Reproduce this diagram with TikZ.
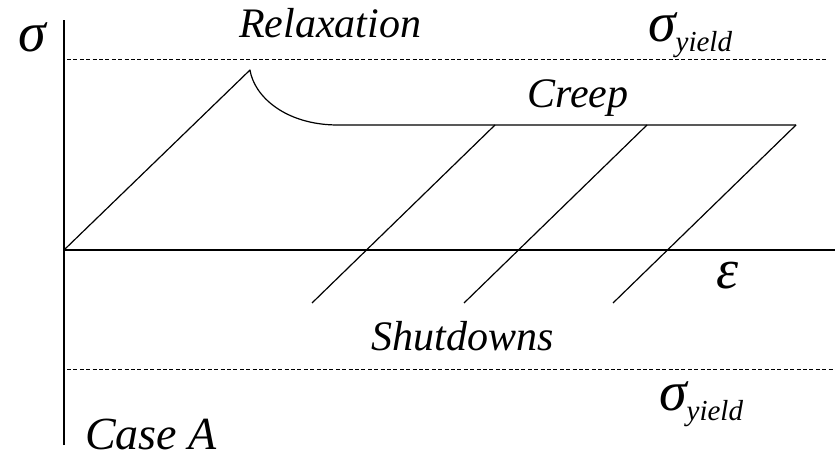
\documentclass[tikz,border=0pt]{standalone}
\usepackage{fontspec}
\setmainfont{Liberation Serif}
\usetikzlibrary{positioning,calc}
\newcommand{\bigsym}[1]{{\fontsize{28}{30}\selectfont #1}}
\newcommand{\syield}{\bigsym{σ}\raisebox{-5pt}{\fontsize{14.5}{16}\selectfont\itshape yield}}

\begin{document}
\begin{tikzpicture}[
  x=0.5pt, y=-0.5pt,
  axis/.style={line width=0.6pt, color=black},
  yieldline/.style={dash pattern=on 2pt off 1.2pt, line width=0.5pt},
  curve/.style={line width=0.6pt, line join=round},
  tag/.style={inner sep=0pt, anchor=base, font=\fontsize{21}{25}\selectfont\itshape}
]
\useasboundingbox (0,0) rectangle (835,460);

% Axes
\coordinate (o) at (64,250);
\coordinate (ytop) at (64,20);
\coordinate (ybot) at (64,445);
\coordinate (xend) at (835,250);
\draw[axis] (ybot) -- (ytop);
\draw[axis] (o) -- (xend);

% Yield limits
\coordinate (yu1) at (67,60);
\coordinate (yu2) at (828,60);
\coordinate (yl1) at (67,369);
\coordinate (yl2) at (835,369);
\draw[yieldline] (yu1) -- (yu2);
\draw[yieldline] (yl1) -- (yl2);

% Loading, relaxation and creep
\coordinate (peak) at (250,70);
\coordinate (relaxed) at (338,125);
\coordinate (creepend) at (796,125);
\draw[curve] (o) -- (peak) .. controls (254,96) and (285,125) .. (relaxed) -- (creepend);

% Shutdowns
\foreach \x/\n in {495/1, 647/2, 796/3} {
  \coordinate (top\n) at (\x,125);
  \coordinate (bot\n) at ($(top\n)+(-183,178)$);
  \draw[curve] (top\n) -- (bot\n);
}

% Labels
\node[tag] (sig) at (32,52) {\bigsym{σ}};
\node[tag] (relax) at (330,38) {Relaxation};
\node[tag] (yieldup) at (690,42) {\syield};
\node[tag] (creep) at (578,108) {Creep};
\node[tag] (eps) at (728,288) {\bigsym{ε}};
\node[tag] (shut) at (463,350) {Shutdowns};
\node[tag] (yieldlow) at (701,410) {\syield};
\node[tag, font=\fontsize{23}{27}\selectfont\itshape] (case) at (151,449) {Case A};

\end{tikzpicture}
\end{document}
